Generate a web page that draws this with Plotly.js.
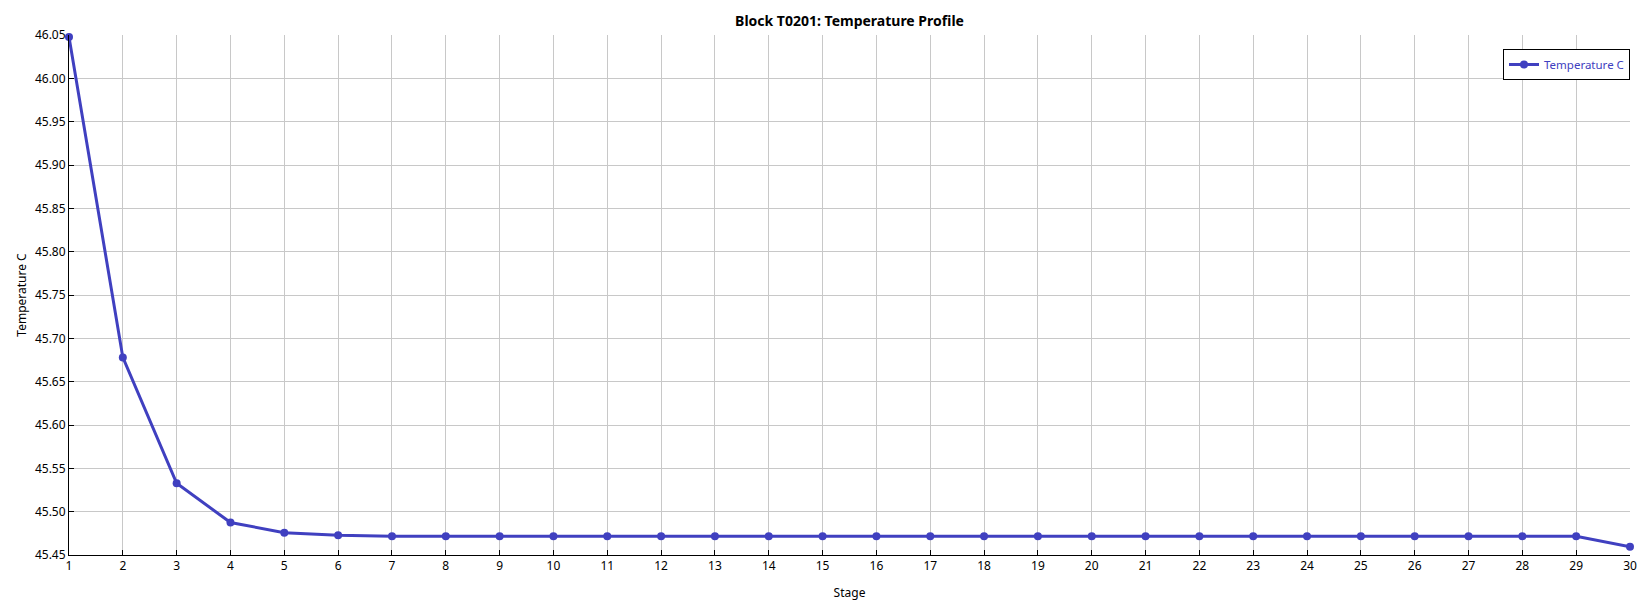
<!DOCTYPE html>
<html>
<head>
<meta charset="utf-8">
<script src="https://cdn.plot.ly/plotly-3.0.1.min.js"></script>
<style>
html,body{margin:0;padding:0;background:#fff;}
#chart{width:1647px;height:604px;}
</style>
</head>
<body>
<div id="chart"></div>
<script>
const stages = [1,2,3,4,5,6,7,8,9,10,11,12,13,14,15,16,17,18,19,20,21,22,23,24,25,26,27,28,29,30];
const temperatureC = [46.0477,45.678,45.5327,45.4875,45.4758,45.4727,45.4716,45.4716,45.4716,45.4716,
  45.4716,45.4716,45.4716,45.4716,45.4716,45.4716,45.4716,45.4716,45.4716,45.4716,
  45.4716,45.4716,45.4716,45.4716,45.4716,45.4716,45.4716,45.4716,45.4716,45.4596];
const yTicks = [45.45,45.50,45.55,45.60,45.65,45.70,45.75,45.80,45.85,45.90,45.95,46.00,46.05];

const blue = 'rgb(64,64,192)';
const fontFam = '"Noto Sans", "DejaVu Sans", sans-serif';

const trace = {
  x: stages, y: temperatureC, type: 'scatter', mode: 'lines+markers',
  name: 'Temperature C',
  line: {color: blue, width: 3},
  marker: {color: blue, size: 8},
  cliponaxis: false
};

const layout = {
  width: 1647, height: 604,
  margin: {l: 68.5, r: 17, t: 35, b: 49, pad: 0},
  paper_bgcolor: '#fff', plot_bgcolor: '#fff',
  font: {family: fontFam, size: 12, color: '#000'},
  title: {text: '<b>Block T0201: Temperature Profile</b>', font: {family: fontFam, size: 14, color: '#000'},
          x: 0.5, xref: 'paper', xanchor: 'center', y: 1 - 21/604, yref: 'container', yanchor: 'middle'},
  xaxis: {
    range: [1, 30], tickmode: 'array', tickvals: stages, ticktext: stages.map(String),
    showgrid: true, gridcolor: '#c8c8c8', gridwidth: 1,
    showline: true, linecolor: '#000', linewidth: 1,
    ticks: 'inside', ticklen: 5, tickcolor: '#000',
    zeroline: false, tickfont: {size: 12},
    title: {text: 'Stage', font: {size: 12}, standoff: 15}
  },
  yaxis: {
    range: [45.45, 46.05], tickmode: 'array', tickvals: yTicks, ticktext: yTicks.map(v => v.toFixed(2)),
    showgrid: true, gridcolor: '#c8c8c8', gridwidth: 1,
    showline: true, linecolor: '#000', linewidth: 1,
    ticks: 'inside', ticklen: 5, tickcolor: '#000',
    zeroline: false, tickfont: {size: 12},
    title: {text: 'Temperature C', font: {size: 12}, standoff: 5}
  },
  showlegend: true,
  legend: {x: 1, xanchor: 'right', y: (555-49)/520, yanchor: 'top',
           bgcolor: '#fff', bordercolor: '#000', borderwidth: 1,
           font: {color: blue, size: 11.5}}
};

Plotly.newPlot('chart', [trace], layout, {displayModeBar: false, staticPlot: true});
</script>
</body>
</html>
